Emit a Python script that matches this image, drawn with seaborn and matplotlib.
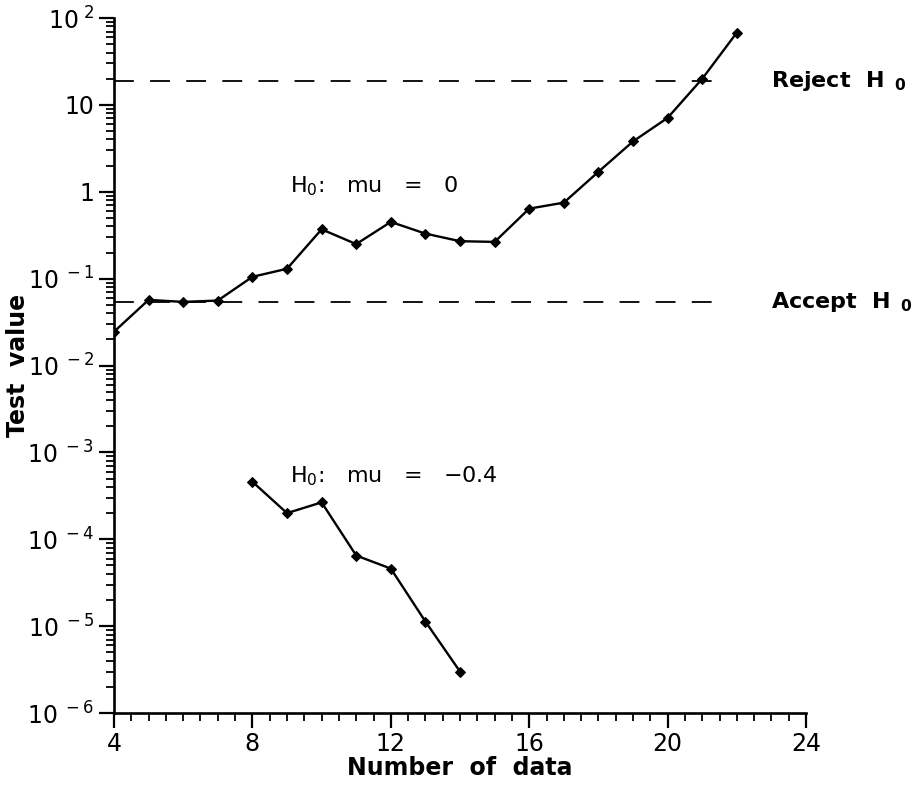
import matplotlib
matplotlib.use("Agg")
import matplotlib.pyplot as plt
import matplotlib.ticker as mticker
import pandas as pd
import seaborn as sns

# sequential test value vs. number of data, two hypotheses
N_UPPER = [4, 5, 6, 7, 8, 9, 10, 11, 12, 13, 14, 15, 16, 17, 18, 19, 20, 21, 22]
TEST_UPPER = [0.0245, 0.057, 0.054, 0.056, 0.105, 0.13, 0.37, 0.25, 0.45, 0.33,
              0.27, 0.265, 0.64, 0.75, 1.7, 3.8, 7.1, 20.0, 68.0]
N_LOWER = [8, 9, 10, 11, 12, 13, 14]
TEST_LOWER = [4.6e-4, 2.0e-4, 2.66e-4, 6.5e-5, 4.6e-5, 1.13e-5, 3.0e-6]

REJECT_LEVEL = 19.0
ACCEPT_LEVEL = 0.054
LEVEL_X = [4, 21.5]

X_TICKS = [4, 8, 12, 16, 20, 24]
Y_TICKS = [1e-6, 1e-5, 1e-4, 1e-3, 1e-2, 1e-1, 1, 10, 100]
Y_TICK_LABELS = [r"10$^{\ -6}$", r"10$^{\ -5}$", r"10$^{\ -4}$", r"10$^{\ -3}$",
                 r"10$^{\ -2}$", r"10$^{\ -1}$", "1", "10", r"10$^{\ 2}$"]

sns.set_theme(style="ticks")
plt.rcParams["font.family"] = ["DejaVu Sans"]
plt.rcParams["mathtext.default"] = "regular"
plt.rcParams["text.color"] = "black"
plt.rcParams["axes.labelcolor"] = "black"

upper = pd.DataFrame({"n": N_UPPER, "test": TEST_UPPER})
lower = pd.DataFrame({"n": N_LOWER, "test": TEST_LOWER})

fig = plt.figure(figsize=(9.17, 7.85), dpi=100)
ax = fig.add_axes([0.1243, 0.0917, 0.7547, 0.8853])

line_kw = dict(color="black", linewidth=1.7, marker="D", markersize=5,
               markeredgecolor="black", markerfacecolor="black")
sns.lineplot(data=upper, x="n", y="test", ax=ax, **line_kw)
sns.lineplot(data=lower, x="n", y="test", ax=ax, **line_kw)

dash = (0, (11, 9))
ax.plot(LEVEL_X, [REJECT_LEVEL] * 2, color="black", linewidth=1.3, linestyle=dash)
ax.plot(LEVEL_X, [ACCEPT_LEVEL] * 2, color="black", linewidth=1.3, linestyle=dash)

ax.set_yscale("log")
ax.set_xlim(4, 24)
ax.set_ylim(1e-6, 1e2)

ax.xaxis.set_major_locator(mticker.FixedLocator(X_TICKS))
ax.xaxis.set_minor_locator(mticker.MultipleLocator(0.5))
ax.yaxis.set_major_locator(mticker.FixedLocator(Y_TICKS))
ax.yaxis.set_major_formatter(mticker.FixedFormatter(Y_TICK_LABELS))
ax.yaxis.set_minor_locator(mticker.LogLocator(base=10, subs=range(2, 10), numticks=20))
ax.yaxis.set_minor_formatter(mticker.NullFormatter())

ax.tick_params(which="major", direction="out", length=11, width=1.6,
               labelsize=17, color="black", labelcolor="black", pad=3)
ax.tick_params(which="minor", direction="out", length=6, width=1.3, color="black")

sns.despine(ax=ax)
for side in ("left", "bottom"):
    ax.spines[side].set_linewidth(1.9)
    ax.spines[side].set_color("black")

ax.set_xlabel("Number  of  data", fontsize=17, fontweight="bold", labelpad=0)
ax.set_ylabel("Test  value", fontsize=17, fontweight="bold")
ax.yaxis.set_label_coords(-0.121, 0.5)

ax.text(9.09, 1.15, r"H$_0$:   mu   =   0", fontsize=16, va="center", ha="left")
ax.text(9.09, 5.3e-4, r"H$_0$:   mu   =   −0.4", fontsize=16, va="center", ha="left")
ax.text(23.0, REJECT_LEVEL, r"Reject  H$_{\ \ 0}$", fontsize=16, fontweight="bold",
        va="center", ha="left", clip_on=False)
ax.text(23.0, ACCEPT_LEVEL, r"Accept  H$_{\ \ 0}$", fontsize=16, fontweight="bold",
        va="center", ha="left", clip_on=False)

ax.grid(False)
fig.savefig("out.png", dpi=100, facecolor="white")
plt.close(fig)
